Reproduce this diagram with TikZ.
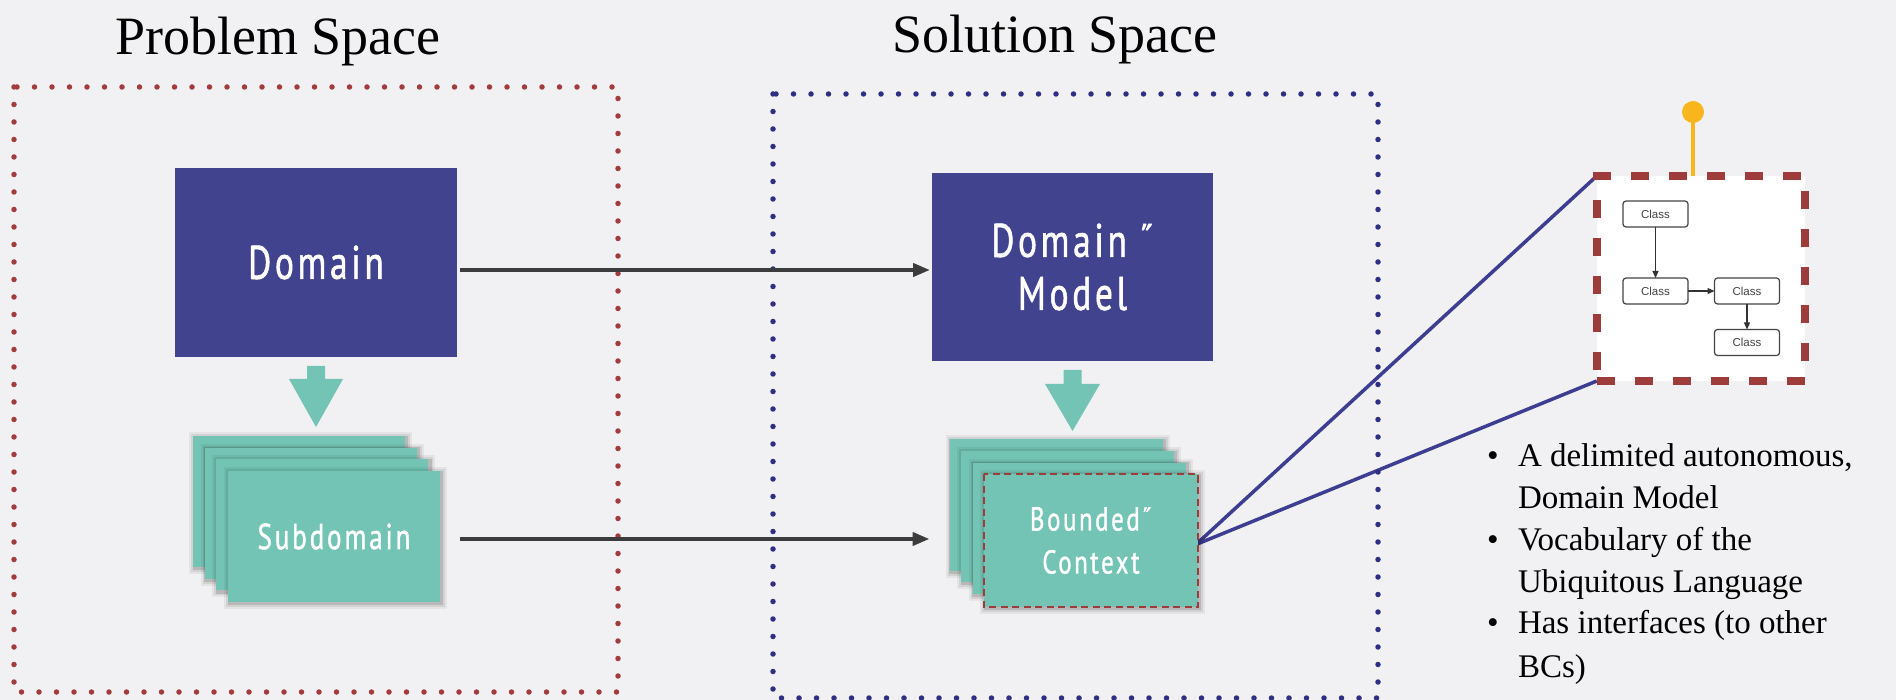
\documentclass[tikz,border=0pt]{standalone}
\usepackage{fontspec}
\setmainfont{Liberation Serif}
\newfontfamily\boxfont[FakeStretch=0.75,LetterSpace=8,FakeBold=1.2]{PT Sans}
\newfontfamily\umlfont{Liberation Sans}
\usetikzlibrary{arrows.meta,backgrounds}

\definecolor{paper}{HTML}{F1F1F3}
\definecolor{dmblue}{HTML}{42438F}
\definecolor{cardteal}{HTML}{73C4B5}
\definecolor{probred}{HTML}{A23B3B}
\definecolor{solblue}{HTML}{2E2E82}
\definecolor{arrowgray}{HTML}{3C3C3C}
\definecolor{linkblue}{HTML}{3D3D91}
\definecolor{dashred}{HTML}{9E3B3B}
\definecolor{pinyellow}{HTML}{F9B51C}
\definecolor{umlgray}{HTML}{444444}

\begin{document}
\begin{tikzpicture}[x=1pt,y=-1pt,
  every node/.style={inner sep=0pt,outer sep=0pt},
  title/.style={font=\fontsize{54}{60}\selectfont,anchor=base},
  bullettext/.style={font=\fontsize{33}{42}\selectfont,anchor=base west},
  bulletdot/.style={font=\fontsize{33}{33}\selectfont,anchor=base},
  dotframe/.style={line width=5.5pt,line cap=round,dash pattern=on 0pt off 17.5pt},
  indigobox/.style={fill=dmblue,text=white,minimum width=282pt,minimum height=189pt,
    align=center,font=\boxfont\fontsize{47}{53}\selectfont},
  card/.style={fill=cardteal,minimum width=212pt,minimum height=131pt,
    preaction={draw=black,draw opacity=0.05,line width=11pt,transform canvas={shift={(1.5pt,-1.5pt)}}},
    preaction={draw=black,draw opacity=0.08,line width=7pt,transform canvas={shift={(1.5pt,-1.5pt)}}},
    preaction={draw=black,draw opacity=0.12,line width=3.5pt,transform canvas={shift={(1.5pt,-1.5pt)}}}},
  cardtext/.style={text=white,align=center},
  grayarrow/.style={draw=arrowgray,line width=4pt,-{Triangle[length=17pt,width=13pt]}},
  downarrow/.style={fill=cardteal},
  link/.style={draw=linkblue,line width=3.5pt},
  umlbox/.style={draw=umlgray,line width=1.2pt,rounded corners=3pt,fill=white,
    minimum width=65pt,minimum height=26pt,font=\umlfont\fontsize{11.5}{12}\selectfont,text=umlgray},
  umlarrow/.style={draw=black!80,line width=1.2pt,-{Triangle[length=7pt,width=6pt]}}
]
% page and paper
\useasboundingbox (0,0) rectangle (1896,700);
\begin{scope}[on background layer]
  \fill[paper] (0,0) rectangle (1896,700);
\end{scope}

% headings
\node[title] (probtitle) at (278,55) {Problem Space};
\node[title] (soltitle) at (1055,53) {Solution Space};

% dotted space frames
\draw[dotframe,probred] (14,87) rectangle (618,692);
\draw[dotframe,solblue] (773,94) rectangle (1378,698);

% domain boxes
\node[indigobox] (dom) at (316,262.5) {Domain};
\node[indigobox,minimum width=281pt,minimum height=188pt] (dm) at (1072.5,267) {Domain ˝\\Model};

% teal down arrows
\fill[downarrow] (dom.south) ++(-9,9) -- ++(18,0) -- ++(0,13) -- ++(18,0)
  -- ++(-27,48) -- ++(-27,-48) -- ++(18,0) -- cycle;
\fill[downarrow] (dm.south) ++(-9,9) -- ++(18,0) -- ++(0,14) -- ++(18.5,0)
  -- ++(-27.5,47) -- ++(-27.5,-47) -- ++(18.5,0) -- cycle;

% subdomain stack
\node[card] (sub1) at (299,501.5) {};
\node[card] (sub2) at (310.7,513.2) {};
\node[card] (sub3) at (322.3,524.8) {};
\node[card,cardtext,font=\boxfont\fontsize{36}{42}\selectfont] (sub) at (334,536.5) {Subdomain};

% bounded context stack
\node[card,minimum width=213pt] (bc1) at (1056,505) {};
\node[card,minimum width=213pt] (bc2) at (1067.5,516.5) {};
\node[card,minimum width=213pt] (bc3) at (1079,528) {};
\node[card,cardtext,minimum width=214pt,minimum height=133pt,
  font=\boxfont\fontsize{33}{43}\selectfont] (bc) at (1091,540.5) {Bounded˝\\Context};
\draw[dashred,line width=2.5pt,dash pattern=on 7pt off 4.5pt]
  (bc.north west) rectangle (bc.south east);

% problem to solution mappings
\draw[grayarrow,shorten <=3pt,shorten >=2pt] (dom.east |- 0,270) -- (dm.west |- 0,270);
\draw[grayarrow,shorten <=20pt,shorten >=20pt] (sub.east |- 0,539) -- (bc1.west |- 0,539);

% class diagram callout
\node[draw=dashred,fill=white,line width=8pt,dash pattern=on 18pt off 20pt,
  minimum width=208.5pt,minimum height=205pt] (cls) at (1701,278.5) {};
\begin{scope}[on background layer]
  \draw[link] (bc.east) ++(-2,4) -- (cls.north west);
  \draw[link] (bc.east) ++(-2,4) -- (cls.south west);
\end{scope}
\node[circle,fill=pinyellow,minimum size=22pt] (pinhead) at (1693,112) {};
\draw[pinyellow,line width=4pt] (pinhead.center) -- (pinhead.center |- cls.north);

\node[umlbox] (c1) at (1655.5,214) {Class};
\node[umlbox] (c2) at (1655.5,291) {Class};
\node[umlbox] (c3) at (1747,291) {Class};
\node[umlbox] (c4) at (1747,342.5) {Class};
\draw[umlarrow] (c1) -- (c2);
\draw[umlarrow] (c2) -- (c3);
\draw[umlarrow] (c3) -- (c4);

% notes
\node[bulletdot] (d1) at (1493,466) {•};
\node[bullettext] (t1a) at (1518,466) {A delimited autonomous,};
\node[bullettext] (t1b) at (1518,508) {Domain Model};
\node[bulletdot] (d2) at (1493,550) {•};
\node[bullettext] (t2a) at (1518,550) {Vocabulary of the};
\node[bullettext] (t2b) at (1518,592) {Ubiquitous Language};
\node[bulletdot] (d3) at (1493,633) {•};
\node[bullettext] (t3a) at (1518,633) {Has interfaces (to other};
\node[bullettext] (t3b) at (1518,677) {BCs)};
\end{tikzpicture}
\end{document}
